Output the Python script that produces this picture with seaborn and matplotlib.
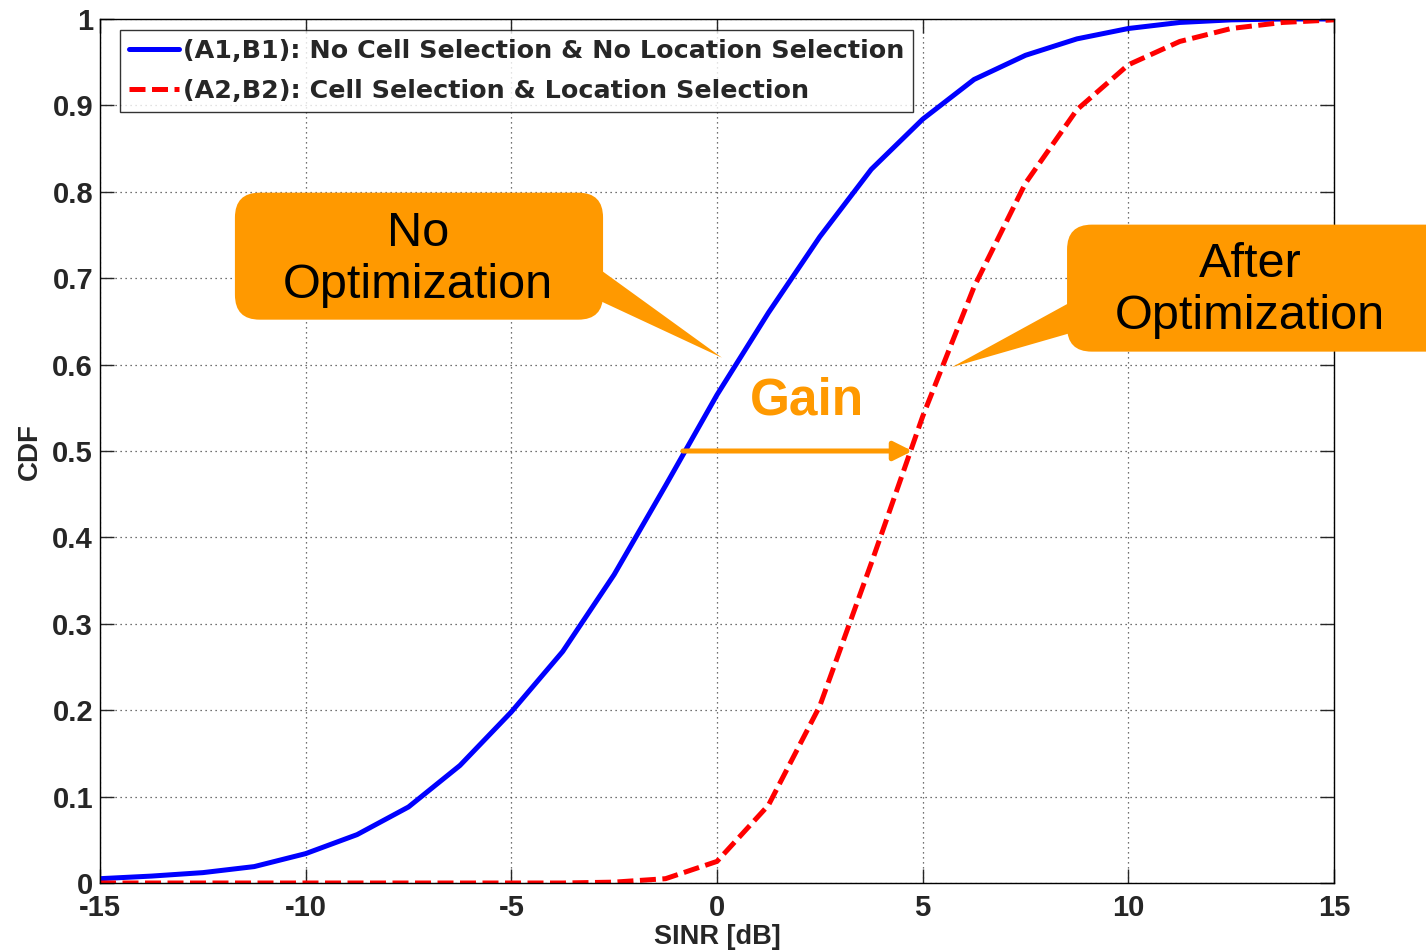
import numpy as np
import pandas as pd
import matplotlib
matplotlib.use("Agg")
import matplotlib.pyplot as plt
import seaborn as sns
from matplotlib.patches import FancyBboxPatch, Polygon

# ---- data ----
sinr_db = [-15, -13.75, -12.5, -11.25, -10, -8.75, -7.5, -6.25, -5, -3.75, -2.5, -1.25,
           0, 1.25, 2.5, 3.75, 5, 6.25, 7.5, 8.75, 10, 11.25, 12.5, 13.75, 15]
cdf_no_opt = [0.005, 0.008, 0.012, 0.019, 0.034, 0.056, 0.088, 0.136, 0.198, 0.268, 0.357, 0.46,
              0.565, 0.66, 0.748, 0.826, 0.884, 0.93, 0.958, 0.977, 0.989, 0.996, 0.999, 1.0, 1.0]
cdf_opt = [0.0, 0.0, 0.0, 0.0, 0.0, 0.0, 0.0, 0.0, 0.0, 0.0, 0.001, 0.005,
           0.025, 0.09, 0.205, 0.37, 0.54, 0.69, 0.81, 0.895, 0.947, 0.974, 0.989, 0.996, 0.999]
series_names = ["(A1,B1): No Cell Selection & No Location Selection",
                "(A2,B2): Cell Selection & Location Selection"]
x_ticks = [-15, -10, -5, 0, 5, 10, 15]
y_ticks = [0, 0.1, 0.2, 0.3, 0.4, 0.5, 0.6, 0.7, 0.8, 0.9, 1]
y_tick_labels = ["0", "0.1", "0.2", "0.3", "0.4", "0.5", "0.6", "0.7", "0.8", "0.9", "1"]

df = pd.DataFrame({
    "SINR": sinr_db * 2,
    "CDF": cdf_no_opt + cdf_opt,
    "series": [series_names[0]] * len(sinr_db) + [series_names[1]] * len(sinr_db),
})

sns.set_style("white")
plt.rcParams["font.family"] = ["Liberation Sans", "DejaVu Sans"]

orange = "#FF9900"

fig = plt.figure(figsize=(14.26, 9.51), dpi=100)
ax = fig.add_axes([100 / 1426, 1 - 883 / 951, 1234 / 1426, 864 / 951])

sns.lineplot(data=df, x="SINR", y="CDF", hue="series", style="series",
             palette={series_names[0]: "#0000FF", series_names[1]: "#FF0000"},
             dashes={series_names[0]: "", series_names[1]: (3.2, 1.3)},
             linewidth=3.6, ax=ax, legend=False, sort=False)

ax.set_xlim(-15, 15)
ax.set_ylim(0, 1)
ax.set_xticks(x_ticks)
ax.set_xticklabels([str(t) for t in x_ticks])
ax.set_yticks(y_ticks)
ax.set_yticklabels(y_tick_labels)
for lab in ax.get_xticklabels() + ax.get_yticklabels():
    lab.set_fontweight("bold")
    lab.set_fontsize(21)
ax.tick_params(axis="x", direction="in", length=10, width=1, top=True, bottom=True, pad=8)
ax.tick_params(axis="y", direction="in", length=10, width=1, left=True, right=True, pad=5)
ax.grid(True, linestyle=(0, (1, 3)), color="#444444", linewidth=0.9)
for sp in ax.spines.values():
    sp.set_color("black")
    sp.set_linewidth(1.0)

ax.set_xlabel("SINR [dB]", fontsize=19.5, fontweight="bold", labelpad=1)
ax.set_ylabel("CDF", fontsize=20, fontweight="bold", labelpad=7)

# legend
handles = ax.get_lines()[:2]
leg = ax.legend(handles, series_names, loc="upper left", bbox_to_anchor=(0.016, 0.987),
                borderaxespad=0, frameon=True, fancybox=False, handlelength=2.0,
                handletextpad=0.12, borderpad=0.35, labelspacing=0.62,
                prop={"family": "DejaVu Sans", "weight": "bold", "size": 18.3})
leg.get_frame().set_edgecolor("black")
leg.get_frame().set_linewidth(1.0)

# callout "No Optimization"
box1 = FancyBboxPatch((-11.72, 0.652), 8.95, 0.147,
                      boxstyle="round,pad=0,rounding_size=0.6",
                      mutation_aspect=0.048, facecolor=orange, edgecolor="none",
                      transform=ax.transData, clip_on=False, zorder=5)
ax.add_patch(box1)
tail1 = Polygon([(-2.9, 0.712), (-2.9, 0.675), (0.12, 0.608)], closed=True,
                facecolor=orange, edgecolor="none", clip_on=False, zorder=5)
ax.add_patch(tail1)
ax.text(-7.27, 0.722, "No\nOptimization", ha="center", va="center", fontsize=35,
        linespacing=1.2, color="black", zorder=6, clip_on=False)

# callout "After Optimization"
box2 = FancyBboxPatch((8.51, 0.615), 10.0, 0.147,
                      boxstyle="round,pad=0,rounding_size=0.6",
                      mutation_aspect=0.048, facecolor=orange, edgecolor="none",
                      transform=ax.transData, clip_on=False, zorder=5)
ax.add_patch(box2)
tail2 = Polygon([(8.7, 0.675), (8.7, 0.638), (5.71, 0.597)], closed=True,
                facecolor=orange, edgecolor="none", clip_on=False, zorder=5)
ax.add_patch(tail2)
ax.text(12.96, 0.686, "After\nOptimization", ha="center", va="center", fontsize=35,
        linespacing=1.2, color="black", zorder=6, clip_on=False)

# gain arrow
ax.annotate("", xy=(4.75, 0.5), xytext=(-0.83, 0.5),
            arrowprops=dict(arrowstyle="-|>", color=orange, lw=3.6,
                            mutation_scale=28, shrinkA=0, shrinkB=0), zorder=6)
ax.text(2.2, 0.558, "Gain", ha="center", va="center", fontsize=37,
        fontweight="bold", color=orange, zorder=6)

fig.savefig("out.png", dpi=100)
